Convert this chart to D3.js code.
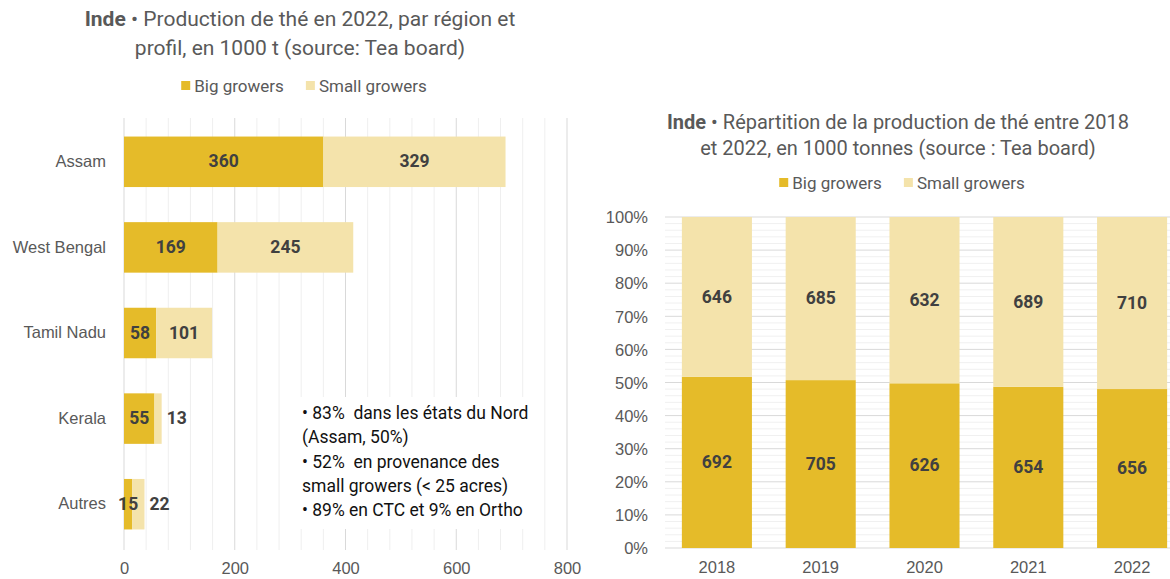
<!DOCTYPE html>
<html lang="fr">
  <head>
    <meta charset="utf-8">
    <title>Inde - production de thé</title>
    <style type="text/css">
      body{margin: 0; background: white; font-family: Roboto, "Noto Sans", sans-serif;}
      .title{fill: #595959; font-size: 20px;}
      .title tspan.b{font-weight: bold;}
      .legend text{fill: #595959; font-size: 17px;}
      .cat text{fill: #595959; font-size: 17px;}
      .tick text{fill: #595959; font-size: 16.5px;}
      .bottom .tick text{font-size: 16.5px;}
      .val{fill: #404040; font-size: 17.5px; font-weight: bold;}
      .note{fill: #111; font-size: 17.5px; white-space: pre;}
      .domain{display: none;}
    </style>
  </head>
  <body>
    <div id='svg_container'></div>

    <script src="https://d3js.org/d3.v7.min.js"></script>
    <script type="text/javascript">

      const w = 1170;
      const h = 579;

      // left chart : 2022 by region
      const regions = ['Assam', 'West Bengal', 'Tamil Nadu', 'Kerala', 'Autres'];
      const regionBig = [360, 169, 58, 55, 15];
      const regionSmall = [329, 245, 101, 13, 22];
      const prodTicks = [0, 200, 400, 600, 800];

      // right chart : 2018-2022 share
      const years = ['2018', '2019', '2020', '2021', '2022'];
      const yearBig = [692, 705, 626, 654, 656];
      const yearSmall = [646, 685, 632, 689, 710];
      const pctTicks = [0, 10, 20, 30, 40, 50, 60, 70, 80, 90, 100];

      const seriesNames = ['Big growers', 'Small growers'];
      const notes = [
        '• 83%  dans les états du Nord',
        '(Assam, 50%)',
        '• 52%  en provenance des',
        'small growers (< 25 acres)',
        '• 89% en CTC et 9% en Ortho'
      ];

      const color = d3.scaleOrdinal().domain(['big', 'small']).range(['#e5bb29', '#f4e3ab']);

      var svg = d3.select('#svg_container').append('svg')
        .attr('width', w).attr('height', h);

      function legend(g, cx, y){
        var item = g.selectAll('g').data(seriesNames).enter().append('g');
        item.append('rect').attr('width', 9).attr('height', 9).attr('y', y - 6)
          .attr('fill', (d, i) => color.range()[i]);
        item.append('text').attr('x', 13).attr('y', y + 1).attr('dominant-baseline', 'middle').text(d => d);
        // lay out the two items centered on cx
        var widths = [];
        item.each(function(){ widths.push(this.getBBox().width); });
        var gap = 22, total = d3.sum(widths) + gap;
        var x = cx - total / 2;
        item.attr('transform', function(d, i){
          var t = 'translate(' + x + ',0)';
          x += widths[i] + gap;
          return t;
        });
      }

      // ---------- left chart ----------
      var left = svg.append('g');
      var title1 = left.append('text').attr('class', 'title').attr('text-anchor', 'middle').style('font-size', '21px');
      var t1 = title1.append('tspan').attr('x', 300).attr('y', 26);
      t1.append('tspan').attr('class', 'b').text('Inde');
      t1.append('tspan').text(' • Production de thé en 2022, par région et');
      title1.append('tspan').attr('x', 300).attr('y', 55).text('profil, en 1000 t (source: Tea board)');

      legend(left.append('g').attr('class', 'legend'), 304, 87);

      var x = d3.scaleLinear().domain([0, 800]).range([124, 567]);
      var y = d3.scaleBand().domain(regions).range([119, 547]).paddingInner(0.41).paddingOuter(0.205);

      // minor + major vertical gridlines
      left.append('g').selectAll('line').data(d3.range(0, 801, 40)).enter().append('line')
        .attr('x1', d => x(d)).attr('x2', d => x(d))
        .attr('y1', 118).attr('y2', 550)
        .attr('stroke', d => d % 200 === 0 ? '#d9d9d9' : '#efefef').attr('stroke-width', 1);

      // baseline of the labels kept inside the 579px frame
      left.append('g').attr('class', 'bottom').attr('transform', 'translate(0,' + 574 + ')')
        .call(d3.axisBottom(x).tickValues(prodTicks).tickSize(0).tickPadding(0))
        .selectAll('text').attr('dy', 0);

      left.append('g').attr('class', 'cat')
        .attr('transform', 'translate(' + 106 + ',0)')
        .call(d3.axisLeft(y).tickSize(0).tickPadding(0))
        .selectAll('text').attr('dy', '0.32em');

      var regionRows = regions.map((r, i) => ({cat: r, big: regionBig[i], small: regionSmall[i]}));
      var stackL = d3.stack().keys(['big', 'small'])(regionRows);

      var layerL = left.selectAll('.layer').data(stackL).enter().append('g')
        .attr('fill', d => color(d.key));
      layerL.selectAll('rect').data(d => d).enter().append('rect')
        .attr('x', d => x(d[0])).attr('width', d => x(d[1]) - x(d[0]))
        .attr('y', d => y(d.data.cat)).attr('height', y.bandwidth());

      stackL.forEach(function(s){
        left.append('g').selectAll('text').data(s).enter().append('text')
          .attr('class', 'val')
          .attr('dominant-baseline', 'middle')
          .attr('y', d => y(d.data.cat) + y.bandwidth() / 2 + 1)
          .attr('x', function(d){
            var wd = x(d[1]) - x(d[0]);
            return (s.key === 'small' && wd < 25) ? x(d[1]) + 5 : (x(d[0]) + x(d[1])) / 2;
          })
          .attr('text-anchor', function(d){
            var wd = x(d[1]) - x(d[0]);
            return (s.key === 'small' && wd < 25) ? 'start' : 'middle';
          })
          .text(d => d.data[s.key]);
      });

      // annotation box
      var note = left.append('g');
      note.append('rect').attr('x', 296).attr('y', 397).attr('width', 244).attr('height', 132).attr('fill', 'white');
      note.selectAll('text').data(notes).enter().append('text')
        .attr('class', 'note').attr('x', 302)
        .attr('y', (d, i) => 419 + i * 24.3)
        .text(d => d);

      // ---------- right chart ----------
      var right = svg.append('g');
      var title2 = right.append('text').attr('class', 'title').attr('text-anchor', 'middle');
      var t2 = title2.append('tspan').attr('x', 898).attr('y', 129);
      t2.append('tspan').attr('class', 'b').text('Inde');
      t2.append('tspan').text(' • Répartition de la production de thé entre 2018');
      title2.append('tspan').attr('x', 898).attr('y', 155).text('et 2022, en 1000 tonnes (source : Tea board)');

      legend(right.append('g').attr('class', 'legend'), 902, 184);

      var xb = d3.scaleBand().domain(years).range([665, 1184]).paddingInner(0.325).paddingOuter(0.1625);
      var yp = d3.scaleLinear().domain([0, 100]).range([548, 217]);

      right.append('g').selectAll('line').data(d3.range(0, 101, 2)).enter().append('line')
        .attr('x1', 665).attr('x2', w)
        .attr('y1', d => yp(d)).attr('y2', d => yp(d))
        .attr('stroke', d => d % 10 === 0 ? '#d9d9d9' : '#f0f0f0').attr('stroke-width', 1);

      right.append('g').attr('transform', 'translate(' + 648 + ',0)')
        .call(d3.axisLeft(yp).tickValues(pctTicks).tickSize(0).tickPadding(0).tickFormat(d => d + '%'))
        .selectAll('text').attr('dy', '0.35em');

      right.append('g').attr('class', 'bottom').attr('transform', 'translate(0,' + 573 + ')')
        .call(d3.axisBottom(xb).tickSize(0).tickPadding(0))
        .selectAll('text').attr('dy', 0);

      var yearRows = years.map((yr, i) => {
        var tot = yearBig[i] + yearSmall[i];
        return {year: yr, big: yearBig[i] / tot * 100, small: yearSmall[i] / tot * 100, rawbig: yearBig[i], rawsmall: yearSmall[i]};
      });
      var stackR = d3.stack().keys(['big', 'small'])(yearRows);

      var layerR = right.selectAll('.layer').data(stackR).enter().append('g')
        .attr('fill', d => color(d.key));
      layerR.selectAll('rect').data(d => d).enter().append('rect')
        .attr('x', d => xb(d.data.year)).attr('width', xb.bandwidth())
        .attr('y', d => yp(d[1])).attr('height', d => yp(d[0]) - yp(d[1]));

      stackR.forEach(function(s){
        right.append('g').selectAll('text').data(s).enter().append('text')
          .attr('class', 'val').attr('text-anchor', 'middle').attr('dominant-baseline', 'middle')
          .attr('x', d => xb(d.data.year) + xb.bandwidth() / 2)
          .attr('y', d => (yp(d[0]) + yp(d[1])) / 2 + 1)
          .text(d => d.data['raw' + s.key]);
      });

    </script>
  </body>
</html>
